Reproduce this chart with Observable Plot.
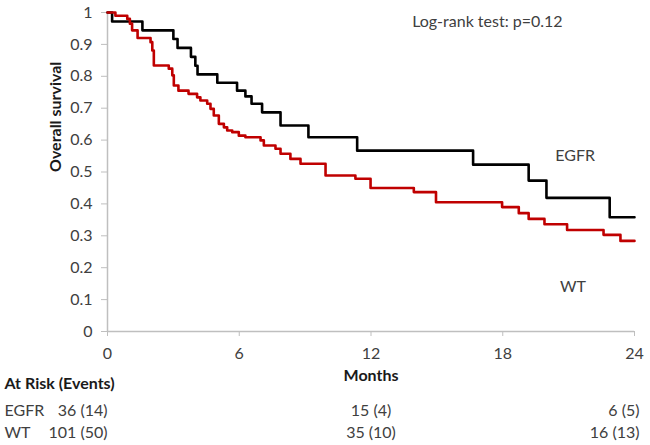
<!DOCTYPE html>
<html><head><meta charset="utf-8">
<script src="https://cdn.jsdelivr.net/npm/d3@7"></script>
<script src="https://cdn.jsdelivr.net/npm/@observablehq/plot@0.6"></script>
<style>body{margin:0;background:#fff;font-family:Lato,sans-serif}svg{display:block}</style>
</head><body><div id="chart"></div>
<script>
const groups = ["EGFR", "WT"];
const egfrTimes = [0, 0.21, 1.59, 3.0, 3.19, 3.8, 4.0, 4.1, 5.0, 5.9, 6.28, 6.56, 7.04, 7.88, 9.15, 11.37, 16.65, 19.18, 19.99, 22.87, 24];
const egfrSurv  = [1, 0.972, 0.944, 0.917, 0.889, 0.861, 0.833, 0.806, 0.78, 0.755, 0.737, 0.714, 0.687, 0.646, 0.609, 0.567, 0.523, 0.473, 0.419, 0.358, 0.358];
const wtTimes = [0, 0.36, 0.90, 1.02, 1.12, 1.37, 1.96, 2.04, 2.11, 2.79, 2.95, 3.02, 3.23, 3.69, 4.08, 4.23, 4.54, 4.69, 4.84, 5.07, 5.30, 5.45, 5.68, 5.98, 6.28, 6.97, 7.12, 7.65, 7.88, 8.33, 8.79, 9.93, 11.29, 11.98, 13.95, 14.96, 17.97, 18.73, 19.18, 19.9, 20.93, 22.59, 23.36, 24];
const wtSurv  = [1, 0.99, 0.98, 0.965, 0.944, 0.92, 0.907, 0.881, 0.834, 0.824, 0.803, 0.771, 0.755, 0.745, 0.734, 0.724, 0.714, 0.698, 0.677, 0.651, 0.640, 0.630, 0.625, 0.614, 0.609, 0.599, 0.583, 0.573, 0.557, 0.541, 0.526, 0.489, 0.479, 0.45, 0.437, 0.405, 0.39, 0.371, 0.353, 0.336, 0.318, 0.303, 0.284, 0.284];
const xTicks = [0, 6, 12, 18, 24];
const yTicks = [0, 0.1, 0.2, 0.3, 0.4, 0.5, 0.6, 0.7, 0.8, 0.9, 1];
const riskTimes = [0, 12, 24];
const egfrRisk = ["36 (14)", "15 (4)", "6 (5)"];
const wtRisk = ["101 (50)", "35 (10)", "16 (13)"];
const pText = "Log-rank test: p=0.12";
const xLabel = "Months";
const yLabel = "Overall survival";
const riskTitle = "At Risk (Events)";

const curves = [
  ...egfrTimes.map((t, i) => ({group: "EGFR", t, s: egfrSurv[i]})),
  ...wtTimes.map((t, i) => ({group: "WT", t, s: wtSurv[i]}))
];
const seriesLabels = [
  {group: "EGFR", t: 21.3, s: 0.549},
  {group: "WT", t: 21.2, s: 0.141}
];
const riskRows = [
  ...riskTimes.map((t, i) => ({group: "EGFR", t, label: egfrRisk[i]})),
  ...riskTimes.map((t, i) => ({group: "WT", t, label: wtRisk[i]}))
];

const textColor = "#404040";
const darkText = "#1a1a1a";
const axisColor = "#bfbfbf";
const font = {fontFamily: "Lato, sans-serif", fontSize: "16px", background: "#fff"};

const main = Plot.plot({
  width: 650, height: 396,
  marginLeft: 107, marginRight: 16, marginTop: 12, marginBottom: 65,
  style: font,
  x: {domain: [0, 24]},
  y: {domain: [0, 1]},
  color: {domain: groups, range: ["#000000", "#c00000"]},
  marks: [
    Plot.axisX({ticks: xTicks, tickSize: 5, tickPadding: 11, stroke: axisColor, fill: textColor, label: null}),
    Plot.axisY({ticks: yTicks, tickSize: 6, tickPadding: 9, stroke: axisColor, fill: textColor, label: null,
      tickFormat: d => String(+d.toFixed(1))}),
    Plot.ruleX([0], {stroke: axisColor, strokeWidth: 1.5}),
    Plot.ruleY([0], {stroke: axisColor, strokeWidth: 1.5}),
    Plot.line(curves, {x: "t", y: "s", z: "group", stroke: "group", curve: "step-after", strokeWidth: 2.6}),
    Plot.text(seriesLabels, {x: "t", y: "s", text: "group", fill: textColor}),
    Plot.text([pText], {x: [17.3], y: [0.97], fill: textColor}),
    Plot.text([xLabel], {frameAnchor: "bottom", dy: 49, fontWeight: "bold", fill: darkText}),
    Plot.text([yLabel], {frameAnchor: "left", dx: -52, rotate: -90, fontWeight: "bold", fill: darkText}),
    Plot.text([riskTitle], {frameAnchor: "bottom-left", dx: -103, dy: 57, textAnchor: "start", fontWeight: "bold", fill: darkText})
  ]
});

const risk = Plot.plot({
  width: 650, height: 49,
  marginLeft: 107, marginRight: 16, marginTop: 0, marginBottom: 0,
  style: font,
  x: {domain: [0, 24], axis: null},
  y: {type: "point", domain: groups, range: [14, 36], padding: 0, axis: null},
  marks: [
    Plot.text(riskRows.filter(d => d.t === riskTimes[0]), {x: "t", y: "group", text: "label", textAnchor: "end", fill: textColor}),
    Plot.text(riskRows.filter(d => d.t === riskTimes[1]), {x: "t", y: "group", text: "label", textAnchor: "middle", fill: textColor}),
    Plot.text(riskRows.filter(d => d.t === riskTimes[2]), {x: "t", y: "group", text: "label", textAnchor: "end", dx: 5, fill: textColor}),
    Plot.text(groups, {y: d => d, text: d => d, frameAnchor: "left", dx: -103, textAnchor: "start", fill: textColor})
  ]
});

const c = document.getElementById("chart");
c.append(main, risk);
</script></body></html>
